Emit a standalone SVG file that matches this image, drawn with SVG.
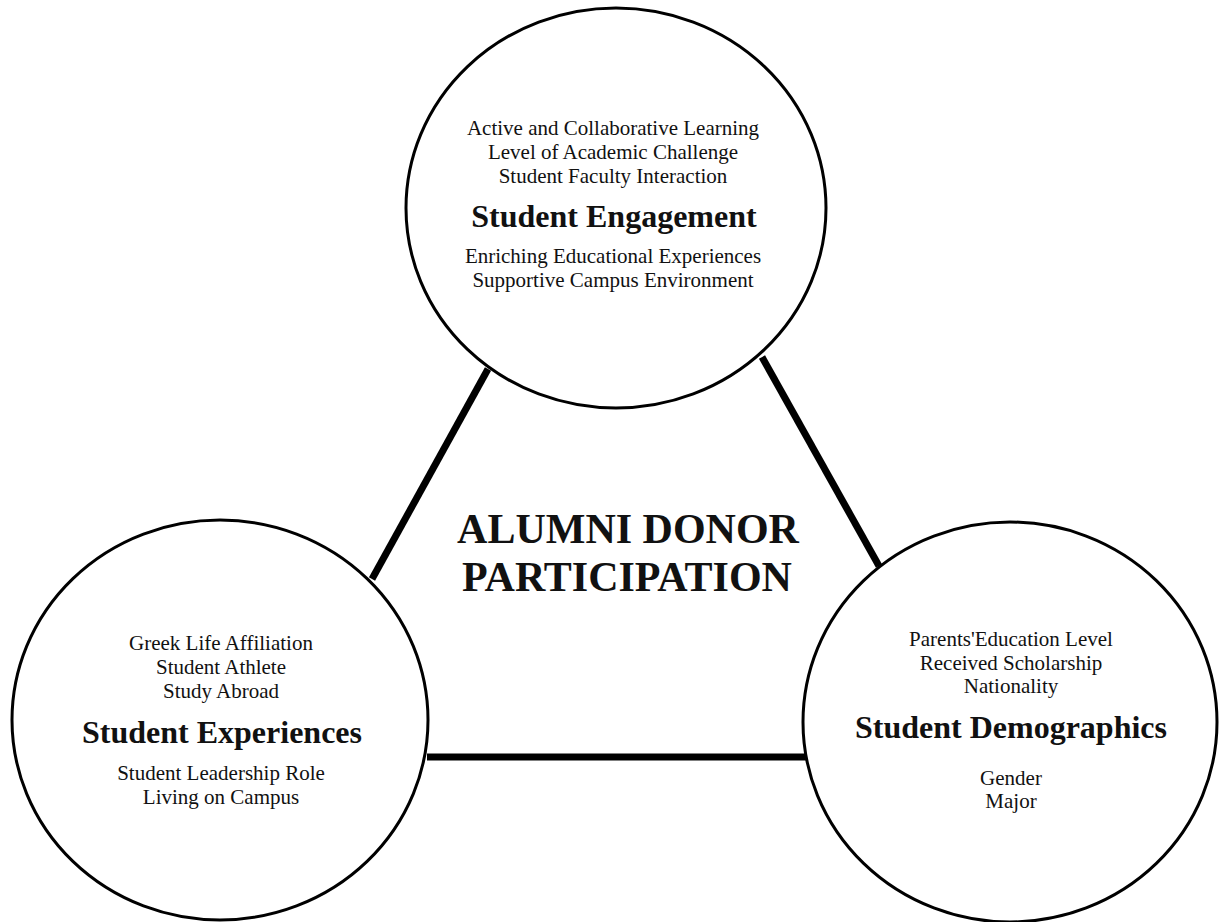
<svg xmlns="http://www.w3.org/2000/svg" width="1219" height="922" viewBox="0 0 1219 922">
<style>
.node{fill:#fff;stroke:#000;stroke-width:3}
.conn{stroke:#000;stroke-width:7;stroke-linecap:butt;fill:none}
text{font-family:"Liberation Serif","Times New Roman",serif;fill:#111;text-anchor:middle}
.item{font-size:21px}
.title{font-size:32px;font-weight:bold}
.center{font-size:42px;font-weight:bold}
</style>
<rect width="1219" height="922" fill="#fff"/>
<g id="connectors">
<line class="conn" x1="372" y1="579" x2="488" y2="369"/>
<line class="conn" x1="762" y1="357" x2="879" y2="566"/>
<line class="conn" x1="427" y1="757" x2="806" y2="757"/>
</g>
<g id="center-label">
<text class="center" x="628" y="543">ALUMNI DONOR</text>
<text class="center" x="627" y="591">PARTICIPATION</text>
</g>
<g id="student-engagement">
<ellipse class="node" cx="616" cy="208" rx="210" ry="200"/>
<text class="item" x="613" y="135">Active and Collaborative Learning</text>
<text class="item" x="613" y="159">Level of Academic Challenge</text>
<text class="item" x="613" y="183">Student Faculty Interaction</text>
<text class="title" x="614" y="227">Student Engagement</text>
<text class="item" x="613" y="263">Enriching Educational Experiences</text>
<text class="item" x="613" y="287">Supportive Campus Environment</text>
</g>
<g id="student-experiences">
<ellipse class="node" cx="220" cy="720" rx="208" ry="200"/>
<text class="item" x="221" y="650">Greek Life Affiliation</text>
<text class="item" x="221" y="674">Student Athlete</text>
<text class="item" x="221" y="698">Study Abroad</text>
<text class="title" x="222" y="743">Student Experiences</text>
<text class="item" x="221" y="780">Student Leadership Role</text>
<text class="item" x="221" y="804">Living on Campus</text>
</g>
<g id="student-demographics">
<ellipse class="node" cx="1010" cy="722" rx="207" ry="200"/>
<text class="item" x="1011" y="646">Parents'Education Level</text>
<text class="item" x="1011" y="670">Received Scholarship</text>
<text class="item" x="1011" y="693">Nationality</text>
<text class="title" x="1011" y="738">Student Demographics</text>
<text class="item" x="1011" y="785">Gender</text>
<text class="item" x="1011" y="808">Major</text>
</g>
</svg>
